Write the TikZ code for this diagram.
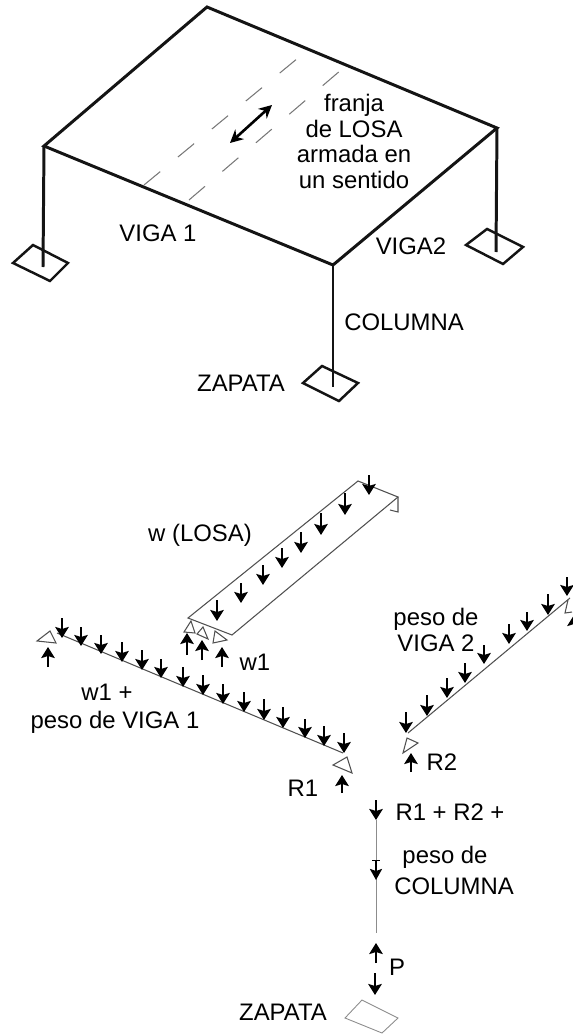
\documentclass[tikz,border=0pt]{standalone}
\usepackage{fontspec}
\setmainfont{Liberation Sans}
\usepackage{xcolor}
\usetikzlibrary{arrows.meta}
\tikzset{
  frameline/.style={line width=1.7pt,color={rgb,255:red,20;green,20;blue,20}},
  footing/.style={line width=1.4pt,color={rgb,255:red,20;green,20;blue,20}},
  thinline/.style={line width=0.6pt,color={rgb,255:red,80;green,80;blue,80}},
  columnline/.style={line width=0.5pt,color={rgb,255:red,140;green,140;blue,140}},
  stripline/.style={line width=0.6pt,color={rgb,255:red,120;green,120;blue,120},dash pattern=on 0.42cm off 0.46cm},
  load/.style={line width=1.6pt,-{Stealth[length=0.22cm,width=0.27cm,inset=0.04cm]}},
  barload/.style={line width=1.6pt,{Bar[width=0.16cm,line width=0.7pt]}-{Stealth[length=0.22cm,width=0.24cm,inset=0.04cm]}}
}
\begin{document}
\begin{tikzpicture}[x={(0.02cm,0cm)},y={(0cm,-0.02cm)},every node/.style={inner sep=0pt, outer sep=0pt, text=black, font=\fontsize{13.6pt}{14.5pt}\selectfont}]
\useasboundingbox (0,0) rectangle (572,1034);
% porch frame
\coordinate (peak) at (207,7);
\coordinate (left) at (44,146);
\coordinate (right) at (497,128);
\coordinate (front) at (333,265);
\coordinate (leftbase) at (43,267);
\coordinate (rightbase) at (496,252);
\coordinate (frontbase) at (333,387);
\draw[frameline] (left) -- (peak) -- (right) -- (front) -- cycle;
\draw[frameline] (left) -- (leftbase);
\draw[frameline] (right) -- (rightbase);
\draw[frameline] (front) -- (frontbase);
\draw[footing] (13,263) -- (33,245) -- (68,263) -- (50,281) -- cycle;
\draw[footing] (466,245) -- (487,229) -- (523,247) -- (503,264) -- cycle;
\draw[footing] (303,383) -- (322,366) -- (358,383) -- (339,401) -- cycle;
\draw[stripline] (144,185) -- (298,58);
\draw[stripline] (189,200) -- (341,70);
\draw[line width=1.5pt,{Stealth[length=0.26cm,width=0.26cm]}-{Stealth[length=0.26cm,width=0.26cm]}] (230,143) -- (272,105);
\node[align=center] (franjalabel) at (354,141.5) {franja\\de LOSA\\armada en\\un sentido};
\node (viga1label) at (158,233) {VIGA 1};
\node (viga2label) at (411,246) {VIGA2};
\node (columnalabel) at (404,322) {COLUMNA};
\node (zapatalabel) at (241,383) {ZAPATA};
% slab strip
\draw[thinline] (188,618) -- (358,481) -- (398,497) -- (232,635) -- cycle;
\draw[thinline] (398,497) -- (398,512) -- (390,510);
\draw[thinline] (191,621) -- (184,632) -- (195,633) -- cycle;
\draw[thinline] (203,627) -- (197,634) -- (208,639) -- cycle;
\draw[thinline] (215,631) -- (213,643) -- (227,640) -- cycle;
\draw[load] (369,475) -- (369,495);
\draw[load] (345,493) -- (345,515);
\draw[load] (321,513) -- (321,535);
\draw[load] (301,532) -- (301,553);
\draw[load] (282,548) -- (282,568);
\draw[load] (263,565) -- (263,585);
\draw[load] (241,583) -- (241,603);
\draw[load] (217,600) -- (217,621);
\draw[load] (187,655) -- (187,633);
\draw[load] (202,660) -- (202,640);
\draw[load] (222,667) -- (222,647);
\node (losalabel) at (200,535) {w (LOSA)};
\node (w1label) at (255,662) {w1};
% beam 1
\coordinate (beama) at (57,633);
\coordinate (beamb) at (343,753);
\draw[thinline] (beama) -- (beamb);
\draw[thinline] (37,641) -- (50,631) -- (56,643) -- cycle;
\draw[thinline] (333,765) -- (347,757) -- (352,773) -- cycle;
\draw[load] (62,618) -- (62,638);
\draw[load] (81,627) -- (81,646);
\draw[load] (101,635) -- (101,654);
\draw[load] (122,642) -- (122,662);
\draw[load] (142,650) -- (142,670);
\draw[load] (161,659) -- (161,678);
\draw[load] (183,667) -- (183,687);
\draw[load] (203,675) -- (203,695);
\draw[load] (223,684) -- (223,704);
\draw[load] (244,692) -- (244,712);
\draw[load] (264,699) -- (264,720);
\draw[load] (283,707) -- (283,728);
\draw[load] (305,719) -- (305,738);
\draw[load] (324,726) -- (324,746);
\draw[load] (344,733) -- (344,753);
\draw[load] (48,667) -- (48,647);
\draw[load] (342,793) -- (342,775);
\node (w1pluslabel) at (107,692) {w1 +};
\node (peso1label) at (115,722) {peso de VIGA 1};
\node (r1label) at (303,788) {R1};
% beam 2
\coordinate (beamc) at (408,733);
\coordinate (beamd) at (570,598);
\draw[thinline] (beamc) -- (beamd);
\draw[thinline] (407,738) -- (418,743) -- (403,753) -- cycle;
\draw[thinline] (568,600) -- (565,613) -- (572,612);
\draw[load] (406,712) -- (406,733);
\draw[load] (427,695) -- (427,716);
\draw[load] (447,678) -- (447,698);
\draw[load] (465,663) -- (465,683);
\draw[load] (484,645) -- (484,664);
\draw[load] (509,624) -- (509,644);
\draw[load] (527,612) -- (527,631);
\draw[load] (548,594) -- (548,615);
\draw[load] (567,577) -- (567,596);
\draw[load] (411,772) -- (411,753);
\draw[load] (574,626) -- (574,615);
\node[align=center] (peso2label) at (436,630) {peso de\\VIGA 2};
\node (r2label) at (442,762) {R2};
% column
\coordinate (columntop) at (376,820);
\coordinate (columnbase) at (376,933);
\draw[columnline] (columntop) -- (columnbase);
\draw[load] (376,800) -- (376,820);
\draw[barload] (376,860) -- (376,880);
\draw[load] (376,963) -- (376,943);
\draw[load] (375,973) -- (375,995);
\draw[columnline] (345,1018) -- (362,1000) -- (398,1018) -- (382,1033) -- cycle;
\node (sumlabel) at (450,812) {R1 + R2 +};
\node (pesocollabel) at (445,857) {peso de};
\node (col2label) at (454,886) {COLUMNA};
\node (plabel) at (397,967) {P};
\node (zapata2label) at (283,1012) {ZAPATA};
\end{tikzpicture}
\end{document}
